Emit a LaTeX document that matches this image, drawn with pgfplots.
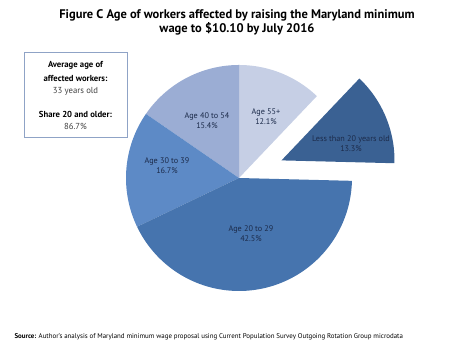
\documentclass[border=0pt]{standalone}
\usepackage{pgfplots}
\pgfplotsset{compat=1.18}
\usepackage{fontspec}
\setmainfont{PT Sans}
\definecolor{cA}{HTML}{C6CFE5}
\definecolor{cB}{HTML}{9BADD4}
\definecolor{cC}{HTML}{5D8AC6}
\definecolor{cD}{HTML}{4674AE}
\definecolor{cE}{HTML}{3A6193}
\definecolor{lbl}{HTML}{1C2B4A}
\definecolor{boxc}{HTML}{8FA3C6}
\begin{document}
\begin{tikzpicture}
% shares (percent), clockwise from the top
\pgfmathsetmacro{\pA}{12.1}% Age 55+
\pgfmathsetmacro{\pE}{13.3}% Less than 20
\pgfmathsetmacro{\pD}{42.5}% Age 20 to 29
\pgfmathsetmacro{\pC}{16.7}% Age 30 to 39
\pgfmathsetmacro{\pB}{15.4}% Age 40 to 54
\pgfmathsetmacro{\aO}{90}
\pgfmathsetmacro{\aA}{\aO-3.6*\pA}
\pgfmathsetmacro{\aE}{\aA-3.6*\pE}
\pgfmathsetmacro{\aD}{\aE-3.6*\pD}
\pgfmathsetmacro{\aC}{\aD-3.6*\pC}
\pgfmathsetmacro{\aB}{\aC-3.6*\pB}
\pgfmathsetmacro{\mE}{(\aA+\aE)/2}
\pgfmathsetmacro{\ex}{239+46*cos(\mE)}
\pgfmathsetmacro{\ey}{166+46*sin(\mE)}
\begin{axis}[x=1pt,y=1pt,xmin=0,xmax=474,ymin=0,ymax=344,hide axis,clip=false]
\path (0,0) rectangle (474,344);
\addplot[fill=cA,draw=none,domain=\aA:\aO,samples=60,variable=\t] ({239+113*cos(\t)},{166+113*sin(\t)}) -- (239,166) -- cycle;
\addplot[fill=cB,draw=none,domain=\aB:\aC,samples=60,variable=\t] ({239+113*cos(\t)},{166+113*sin(\t)}) -- (239,166) -- cycle;
\addplot[fill=cC,draw=none,domain=\aC:\aD,samples=60,variable=\t] ({239+113*cos(\t)},{166+113*sin(\t)}) -- (239,166) -- cycle;
\addplot[fill=cD,draw=none,domain=\aD:\aE,samples=100,variable=\t] ({239+113*cos(\t)},{166+113*sin(\t)}) -- (239,166) -- cycle;
\addplot[fill=cE,draw=none,domain=\aE:\aA,samples=60,variable=\t] ({\ex+113*cos(\t)},{\ey+113*sin(\t)}) -- (\ex,\ey) -- cycle;
% title
\node[align=center,font=\fontsize{12.5}{14}\selectfont\bfseries] at (237,322) {Figure C Age of workers affected by raising the Maryland minimum\\wage to \$10.10 by July 2016};
% box
\draw[boxc,line width=0.8pt] (24,292) rectangle (127,207);
\node[font=\fontsize{8.7}{10}\selectfont\bfseries] at (75.5,279) {Average age of};
\node[font=\fontsize{8.7}{10}\selectfont\bfseries] at (75.5,266) {affected workers:};
\node[font=\fontsize{8.7}{10}\selectfont,text=black!75] at (75.5,253) {33 years old};
\node[font=\fontsize{8.7}{10}\selectfont\bfseries] at (75.5,230) {Share 20 and older:};
\node[font=\fontsize{8.7}{10}\selectfont,text=black!75] at (75.5,218) {86.7\%};
% slice labels
\tikzset{sl/.style={align=center,font=\fontsize{8.2}{10}\selectfont,text=lbl}}
\node[sl] at (266,227) {Age 55+\\12.1\%};
\node[sl] at (207,223) {Age 40 to 54\\15.4\%};
\node[sl] at (167,178) {Age 30 to 39\\16.7\%};
\node[sl] at (251,110) {Age 20 to 29\\42.5\%};
\node[sl] at (351,200) {Less than 20 years old\\13.3\%};
% source
\node[anchor=west,font=\fontsize{6.9}{8}\selectfont] at (11,7) {\textbf{Source:} Author's analysis of Maryland minimum wage proposal using Current Population Survey Outgoing Rotation Group microdata};
\end{axis}
\end{tikzpicture}
\end{document}
